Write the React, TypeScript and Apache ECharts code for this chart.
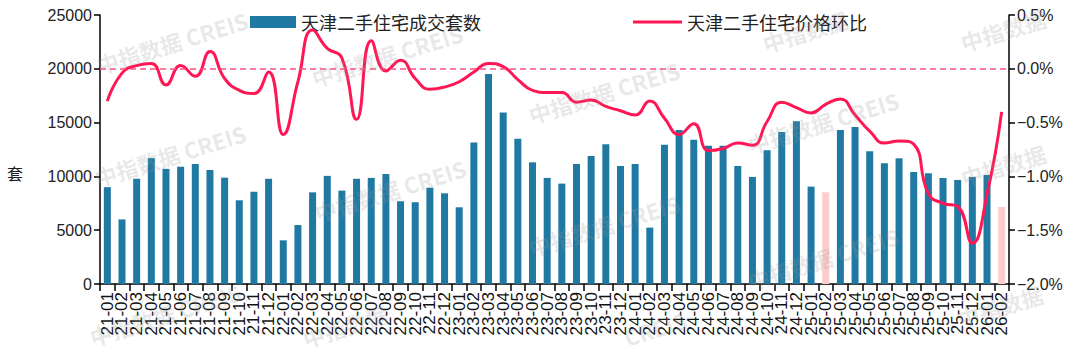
import React, { useEffect, useRef } from 'react';
import * as echarts from 'echarts';

const categories = [
  '21-01', '21-02', '21-03', '21-04', '21-05', '21-06', '21-07', '21-08', '21-09', '21-10', '21-11', '21-12',
  '22-01', '22-02', '22-03', '22-04', '22-05', '22-06', '22-07', '22-08', '22-09', '22-10', '22-11', '22-12',
  '23-01', '23-02', '23-03', '23-04', '23-05', '23-06', '23-07', '23-08', '23-09', '23-10', '23-11', '23-12',
  '24-01', '24-02', '24-03', '24-04', '24-05', '24-06', '24-07', '24-08', '24-09', '24-10', '24-11', '24-12',
  '25-01', '25-02', '25-03', '25-04', '25-05', '25-06', '25-07', '25-08', '25-09', '25-10', '25-11', '25-12',
  '26-01', '26-02',
];

// 天津二手住宅成交套数 (套)
const volumes = [
  9000, 6000, 9780, 11700, 10700, 10900, 11150, 10600, 9880, 7780, 8580, 9780,
  4060, 5480, 8520, 10050, 8680, 9780, 9860, 10220, 7690, 7600, 8950, 8430,
  7130, 13140, 19520, 15950, 13500, 11310, 9860, 9330, 11150, 11900, 12980, 10970,
  11150, 5240, 12950, 14310, 13410, 12860, 12860, 10970, 9950, 12420, 14130, 15120,
  9050, 8520, 14310, 14590, 12330, 11220, 11680, 10410, 10290, 9850, 9670, 9950,
  10130, 7160,
];

// 天津二手住宅价格环比 (%)
const priceMoM = [
  -0.30, -0.04, 0.03, 0.05, -0.15, 0.03, -0.07, 0.16, -0.09, -0.20, -0.23, -0.03,
  -0.61, -0.12, 0.36, 0.19, 0.10, -0.47, 0.26, -0.02, 0.08, -0.09, -0.19, -0.17,
  -0.12, -0.03, 0.05, 0.02, -0.10, -0.20, -0.22, -0.22, -0.31, -0.29, -0.35, -0.39,
  -0.43, -0.30, -0.46, -0.61, -0.51, -0.76, -0.74, -0.69, -0.71, -0.49, -0.31, -0.36,
  -0.41, -0.33, -0.28, -0.43, -0.58, -0.69, -0.67, -0.70, -1.16, -1.25, -1.28, -1.62,
  -1.17, -0.40,
];

// months shown in the lighter colour (Spring Festival months)
const highlightMonths = ['25-02', '26-02'];

const barName = '天津二手住宅成交套数';
const lineName = '天津二手住宅价格环比';
const watermarkFull = '中指数据 CREIS';
const watermarkCn = '中指数据';
const watermarkEn = 'CREIS';

const BLUE = '#1f79a3';
const PINK = '#ffcccc';
const RED = '#ff1654';
const FONT = '"Liberation Sans", Arial, "Noto Sans CJK SC", sans-serif';
const CJK = '"Noto Sans CJK SC", "Liberation Sans", sans-serif';

const watermarkSpots: [number, number, string][] = [
  [172, 42, watermarkFull], [170, 155, watermarkFull], [165, 314, watermarkFull],
  [387, 55, watermarkFull], [390, 190, watermarkFull], [345, 326, watermarkCn],
  [604, 92, watermarkFull], [604, 225, watermarkFull], [655, 328, watermarkEn],
  [805, 31, watermarkCn], [823, 122, watermarkFull], [823, 258, watermarkFull],
  [1003, 30, watermarkCn], [1003, 165, watermarkCn], [1000, 306, watermarkCn],
];

export default function App() {
  const ref = useRef<HTMLDivElement>(null);

  useEffect(() => {
    document.body.style.margin = '0';
    if (!ref.current) return;
    const chart = echarts.init(ref.current, null, { renderer: 'svg' });

    const barData = volumes.map((v, i) => ({
      value: v,
      itemStyle: { color: highlightMonths.includes(categories[i]) ? PINK : BLUE },
    }));

    const axisLineStyle = { color: '#000', width: 1.5 };

    chart.setOption({
      animation: false,
      backgroundColor: '#fff',
      textStyle: { fontFamily: FONT },
      grid: { left: 100, right: 71, top: 15, bottom: 69, containLabel: false },
      legend: [
        {
          data: [{ name: barName, icon: 'rect' }],
          left: 245,
          top: 8,
          itemWidth: 46,
          itemHeight: 12,
          itemGap: 7,
          textStyle: { fontFamily: CJK, fontSize: 18, color: '#222' },
          selectedMode: false,
        },
        {
          data: [{ name: lineName, icon: 'rect' }],
          left: 628,
          top: 8,
          itemWidth: 49,
          itemHeight: 3,
          textStyle: { fontFamily: CJK, fontSize: 18, color: '#222' },
          selectedMode: false,
        },
      ],
      xAxis: {
        type: 'category',
        data: categories,
        boundaryGap: true,
        axisLine: { lineStyle: axisLineStyle },
        axisTick: { show: true, alignWithLabel: false, length: 7, lineStyle: axisLineStyle },
        axisLabel: { rotate: 90, interval: 0, fontSize: 17, color: '#111', margin: 8, fontFamily: FONT },
      },
      yAxis: [
        {
          type: 'value',
          min: 0,
          max: 25000,
          interval: 5000,
          position: 'left',
          axisLine: { show: true, lineStyle: axisLineStyle },
          axisTick: { show: true, length: 6, lineStyle: axisLineStyle },
          splitLine: { show: false },
          axisLabel: {
            fontSize: 16,
            color: '#222',
            margin: 8,
            fontFamily: FONT,
            formatter: (v: number) => String(v),
          },
        },
        {
          type: 'value',
          min: -2,
          max: 0.5,
          interval: 0.5,
          position: 'right',
          axisLine: { show: true, lineStyle: axisLineStyle },
          axisTick: { show: true, length: 6, lineStyle: axisLineStyle },
          splitLine: { show: false },
          axisLabel: {
            fontSize: 16,
            color: '#222',
            margin: 8,
            fontFamily: FONT,
            formatter: (v: number) => (v < 0 ? '\u2212' : '') + Math.abs(v).toFixed(1) + '%',
          },
        },
      ],
      series: [
        {
          name: barName,
          type: 'bar',
          data: barData,
          barWidth: 7,
          itemStyle: { color: BLUE },
          z: 2,
        },
        {
          name: lineName,
          type: 'line',
          yAxisIndex: 1,
          data: priceMoM,
          smooth: 0.5,
          symbol: 'none',
          lineStyle: { color: RED, width: 3 },
          itemStyle: { color: RED },
          z: 4,
          markLine: {
            silent: true,
            symbol: 'none',
            label: { show: false },
            lineStyle: { color: '#ff4f80', width: 1.5, type: [6, 4] },
            data: [{ yAxis: 0 }],
          },
        },
      ],
      graphic: [
        {
          type: 'text',
          left: 7,
          top: 165,
          style: { text: '套', fontSize: 16, fontFamily: CJK, fill: '#222' },
        },
        ...watermarkSpots.map(([x, y, text]) => ({
          type: 'text',
          x,
          y,
          rotation: 0.3,
          silent: true,
          z: 100,
          style: {
            text,
            fontSize: 22,
            fontWeight: 'bold',
            fontFamily: CJK,
            fill: 'rgba(150,150,150,0.22)',
            align: 'center',
            verticalAlign: 'middle',
          },
        })),
      ],
    });

    return () => chart.dispose();
  }, []);

  return <div ref={ref} style={{ width: 1080, height: 353 }} />;
}
